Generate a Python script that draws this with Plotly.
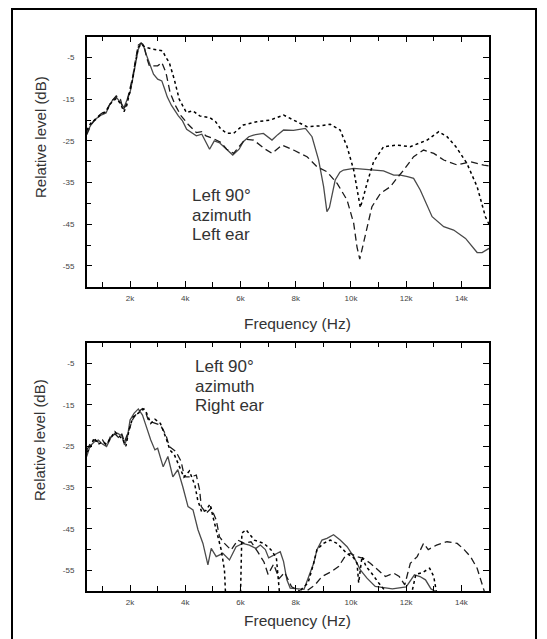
import plotly.graph_objects as go

W, H = 547, 639

# ---- Left 90° azimuth, left ear (frequency in kHz, level in dB) ----
left_solid_f = [0.43, 0.6, 0.77, 0.95, 1.13, 1.25, 1.37, 1.5, 1.62, 1.78, 1.9, 2.0, 2.1, 2.2, 2.3, 2.4,
                2.5, 2.6, 2.75, 2.85, 3.0, 3.15, 3.25, 3.35, 3.5, 3.6, 3.75, 3.9, 4.05, 4.4, 4.6, 4.88,
                5.05, 5.25, 5.5, 5.72, 5.95, 6.1, 6.3, 6.47, 6.83, 7.14, 7.35, 7.56, 7.92, 8.15, 8.35,
                8.59, 8.83, 9.01, 9.13, 9.22, 9.31, 9.43, 9.6, 9.73, 10.1, 10.7, 11.18, 11.55, 11.79,
                12.05, 12.27, 12.51, 12.94, 13.36, 13.72, 14.15, 14.57, 14.75, 15.0]
left_solid_db = [-23.0, -21.0, -19.7, -18.8, -18.3, -16.5, -15.2, -14.5, -15.5, -17.0, -15.0, -13.4, -10.0,
                 -6.5, -3.0, -1.5, -2.5, -4.5, -7.5, -9.0, -10.2, -10.6, -12.5, -14.5, -16.5, -17.6, -19.0,
                 -20.2, -22.2, -23.8, -23.4, -27.0, -25.0, -25.5, -27.0, -28.4, -27.0, -25.2, -24.0, -23.6,
                 -23.2, -24.8, -23.5, -22.4, -22.5, -22.2, -22.0, -24.0, -29.6, -36.0, -42.0, -41.0, -38.4,
                 -34.4, -32.5, -32.0, -31.6, -32.0, -32.2, -33.2, -33.2, -33.6, -34.0, -36.8, -43.2, -45.6,
                 -46.4, -48.4, -51.8, -51.8, -50.8]

left_dash_f = [0.43, 0.6, 0.77, 0.95, 1.13, 1.3, 1.5, 1.65, 1.75, 1.85, 1.95, 2.1, 2.2, 2.3, 2.4, 2.5, 2.6,
               2.7, 2.85, 3.0, 3.15, 3.3, 3.45, 3.65, 3.85, 4.1, 4.4, 4.6, 4.75, 5.0, 5.3, 5.5, 5.75, 5.95,
               6.17, 6.47, 6.7, 6.9, 7.14, 7.5, 7.92, 8.41, 8.77, 9.13, 9.5, 9.86, 10.1, 10.22, 10.32,
               10.42, 10.52, 10.76, 11.07, 11.43, 11.61, 11.91, 12.27, 12.63, 13.0, 13.36, 13.85, 14.33,
               14.81, 15.0]
left_dash_db = [-23.5, -21.0, -19.5, -18.5, -17.8, -15.8, -14.2, -15.0, -17.5, -16.5, -13.8, -9.5, -5.5,
                -2.0, -1.5, -2.0, -5.0, -7.0, -7.0, -7.0, -6.2, -8.6, -13.4, -16.6, -19.0, -21.0, -23.0,
                -22.8, -23.8, -24.4, -25.4, -27.0, -28.0, -26.5, -24.6, -24.8, -26.0, -27.0, -28.0, -26.0,
                -27.2, -28.8, -31.2, -32.4, -35.2, -39.2, -44.8, -50.5, -53.4, -50.5, -47.2, -40.8, -37.6,
                -36.0, -34.4, -32.0, -28.8, -27.2, -28.0, -29.6, -30.8, -30.0, -30.8, -31.0]

left_dot_f = [0.43, 0.6, 0.77, 0.95, 1.13, 1.3, 1.5, 1.65, 1.78, 1.88, 2.0, 2.1, 2.2, 2.3, 2.42, 2.55, 2.82,
              3.0, 3.18, 3.3, 3.42, 3.6, 3.78, 4.04, 4.28, 4.52, 4.88, 5.1, 5.27, 5.5, 5.75, 6.1, 6.59,
              7.08, 7.56, 7.92, 8.41, 8.89, 9.25, 9.61, 9.86, 10.1, 10.22, 10.34, 10.45, 10.58, 10.82,
              11.18, 11.67, 12.15, 12.76, 13.18, 13.48, 13.8, 14.2, 14.57, 14.87, 15.0]
left_dot_db = [-22.5, -20.5, -19.8, -18.6, -18.0, -16.0, -14.8, -16.0, -18.0, -16.5, -13.0, -10.0, -6.0,
               -2.5, -1.8, -2.5, -3.0, -3.2, -3.4, -5.0, -6.2, -10.2, -15.0, -18.2, -17.8, -19.0, -19.4,
               -20.4, -22.0, -23.2, -23.2, -21.2, -20.4, -20.0, -18.8, -20.0, -21.6, -21.4, -21.0, -22.4,
               -26.4, -32.0, -37.0, -41.0, -38.5, -35.2, -30.0, -26.4, -26.0, -26.4, -24.8, -22.8, -24.0,
               -26.4, -30.4, -36.0, -43.2, -45.0]

# ---- Left 90° azimuth, right ear ----
right_solid_f = [0.43, 0.55, 0.7, 0.85, 1.0, 1.15, 1.3, 1.4, 1.55, 1.7, 1.8, 1.9, 2.0, 2.15, 2.3, 2.45, 2.55,
                 2.75, 2.9, 3.0, 3.2, 3.37, 3.55, 3.73, 3.91, 4.1, 4.28, 4.46, 4.64, 4.82, 4.94, 5.12, 5.36,
                 5.6, 5.84, 6.08, 6.32, 6.56, 6.72, 6.9, 7.02, 7.44, 7.56, 7.68, 7.8, 8.3, 8.65, 8.77, 8.95,
                 9.13, 9.37, 9.61, 9.86, 10.1, 10.34, 10.58, 10.88, 11.5, 12.0, 12.3, 12.5, 12.7, 12.9, 13.3]
right_solid_db = [-27.5, -25.0, -24.0, -23.5, -24.5, -25.1, -23.0, -22.3, -21.9, -22.5, -24.7, -23.0, -18.7,
                  -17.0, -16.0, -17.5, -19.5, -23.5, -25.9, -25.5, -30.0, -27.5, -32.4, -30.7, -34.8, -39.6,
                  -40.4, -45.2, -48.5, -53.7, -49.7, -51.7, -50.9, -52.5, -49.3, -48.5, -48.9, -49.7, -48.9,
                  -50.0, -52.0, -50.5, -52.9, -57.3, -59.3, -59.6, -53.3, -50.0, -47.7, -47.3, -46.4, -47.7,
                  -49.3, -51.7, -54.9, -56.9, -58.9, -59.5, -59.0, -56.1, -56.5, -57.3, -59.5, -61.0]

right_dash_f = [0.43, 0.55, 0.7, 0.85, 1.0, 1.15, 1.3, 1.45, 1.6, 1.7, 1.8, 1.95, 2.1, 2.25, 2.45, 2.55, 2.65,
                2.75, 2.95, 3.1, 3.3, 3.42, 3.66, 3.85, 3.97, 4.21, 4.4, 4.52, 4.58, 4.76, 4.94, 5.12, 5.24,
                5.42, 5.66, 5.9, 6.14, 6.38, 6.62, 6.85, 7.0, 7.2, 7.4, 7.6, 7.85, 8.3, 8.7, 8.95, 9.3,
                9.55, 9.8, 9.98, 10.2, 10.45, 10.7, 11.0, 11.25, 11.55, 11.75, 11.95, 12.15, 12.4, 12.63,
                12.8, 13.1, 13.48, 13.85, 14.1, 14.33, 14.57, 14.75, 14.85]
right_dash_db = [-26.0, -24.5, -23.5, -24.0, -23.5, -25.0, -22.5, -22.0, -23.0, -22.0, -24.0, -21.0, -18.5,
                 -17.0, -15.9, -16.5, -18.5, -19.1, -19.5, -19.9, -22.3, -25.1, -26.3, -28.7, -32.4, -32.4,
                 -32.0, -35.6, -39.6, -41.2, -40.0, -42.8, -46.9, -48.5, -50.1, -47.7, -48.5, -48.1, -50.5,
                 -53.0, -56.0, -53.5, -57.0, -55.5, -59.0, -60.5, -58.5, -56.5, -55.3, -54.1, -51.5, -50.9,
                 -51.7, -52.1, -53.3, -55.0, -56.5, -55.7, -56.5, -58.5, -53.3, -51.7, -48.5, -50.0, -48.9,
                 -48.1, -48.5, -50.0, -51.7, -54.5, -58.5, -60.5]

right_dot_f = [0.43, 0.55, 0.7, 0.85, 1.0, 1.15, 1.3, 1.45, 1.6, 1.75, 1.85, 1.95, 2.1, 2.3, 2.5, 2.6, 2.75,
               2.9, 3.1, 3.3, 3.45, 3.6, 3.8, 3.95, 4.15, 4.35, 4.45, 4.6, 4.75, 4.9, 5.0, 5.15, 5.3, 5.42,
               5.46, 6.0, 6.05, 6.2, 6.5, 6.85, 7.1, 7.3, 7.42, 8.0, 8.45, 8.65, 8.77, 9.0, 9.25, 9.5, 9.85,
               10.1, 10.22, 10.28, 10.4, 10.55, 10.75, 11.0, 11.3, 12.2, 12.35, 12.6, 12.85, 13.0, 13.1]
right_dot_db = [-26.5, -25.5, -23.0, -24.5, -24.0, -24.5, -23.0, -21.5, -22.5, -23.5, -25.0, -21.5, -18.0,
                -17.0, -16.0, -17.0, -19.5, -18.5, -19.5, -23.0, -26.0, -27.0, -30.0, -32.5, -31.0, -34.5,
                -38.0, -41.0, -40.5, -39.0, -42.0, -46.0, -50.0, -55.0, -61.0, -61.0, -46.0, -45.2, -47.7,
                -48.5, -50.0, -52.0, -61.0, -61.0, -58.0, -53.3, -50.0, -48.5, -47.7, -48.5, -50.9, -52.0,
                -53.3, -58.0, -51.7, -54.1, -55.7, -58.0, -60.5, -60.5, -56.0, -55.5, -54.5, -56.5, -60.5]

# ---- axes ----
x_range = [0.43, 15.0]
x_tickvals = [2, 4, 6, 8, 10, 12, 14]
x_ticktext = ["2k", "4k", "6k", "8k", "10k", "12k", "14k"]
x_minorvals = [1, 3, 5, 7, 9, 11, 13]
y_range = [-60, 0]
y_tickvals = [-55, -45, -35, -25, -15, -5]
y_ticktext = ["-55", "-45", "-35", "-25", "-15", "-5"]
y_minorvals = [-50, -40, -30, -20, -10]

FONT = "Liberation Sans, Arial, sans-serif"
TICK_FONT = "Liberation Sans Narrow, Liberation Sans, Arial, sans-serif"
SOLID = dict(color="#4a4a4a", width=1.3, dash="solid")
DASH = dict(color="#1c1c1c", width=1.3, dash="7px,4px")
DOT = dict(color="#000000", width=1.5, dash="3px,3px")

fig = go.Figure()
panels = [
    ("x", "y", [(left_solid_f, left_solid_db, SOLID), (left_dash_f, left_dash_db, DASH),
                (left_dot_f, left_dot_db, DOT)]),
    ("x2", "y2", [(right_solid_f, right_solid_db, SOLID), (right_dash_f, right_dash_db, DASH),
                  (right_dot_f, right_dot_db, DOT)]),
]
for xa, ya, series in panels:
    for fx, db, style in series:
        fig.add_trace(go.Scatter(x=fx, y=db, mode="lines", line=style, xaxis=xa, yaxis=ya,
                                 showlegend=False, hoverinfo="skip"))


def px_x(p):
    return p / W


def px_y(p):
    return 1 - p / H


def xaxis(anchor):
    return dict(domain=[px_x(86.7), px_x(489)], range=x_range, anchor=anchor,
                tickmode="array", tickvals=x_tickvals, ticktext=x_ticktext,
                ticks="inside", ticklen=6, tickwidth=1, tickcolor="#000",
                minor=dict(tickmode="array", tickvals=x_minorvals, ticks="inside",
                           ticklen=5, tickwidth=1, tickcolor="#000"),
                showline=True, mirror="ticks", linecolor="#000", linewidth=1.5,
                showgrid=False, zeroline=False, ticklabelstandoff=3,
                tickfont=dict(family=TICK_FONT, size=8, color="#444"))


def yaxis(anchor, top, bottom):
    return dict(domain=[px_y(bottom), px_y(top)], range=y_range, anchor=anchor,
                tickmode="array", tickvals=y_tickvals, ticktext=y_ticktext,
                ticks="inside", ticklen=6, tickwidth=1, tickcolor="#000",
                minor=dict(tickmode="array", tickvals=y_minorvals, ticks="inside",
                           ticklen=5, tickwidth=1, tickcolor="#000"),
                showline=True, mirror="ticks", linecolor="#000", linewidth=1.5,
                showgrid=False, zeroline=False, ticklabelstandoff=9,
                tickfont=dict(family=TICK_FONT, size=8, color="#444"))


def label(text, x, y, size, xanchor="center", yanchor="middle", **kw):
    return dict(text=text, x=px_x(x), y=px_y(y), xref="paper", yref="paper",
                xanchor=xanchor, yanchor=yanchor, showarrow=False,
                font=dict(family=FONT, size=size, color="#333"), **kw)


annotations = [
    label("Frequency (Hz)", 297, 323, 15.5),
    label("Frequency (Hz)", 297, 620, 15.5),
    label("Relative level (dB)", 40, 137, 15, textangle=-90),
    label("Relative level (dB)", 40, 440, 15, textangle=-90),
]
for txt, base in [("Left 90°", 207), ("azimuth", 226.5), ("Left ear", 246),
                  ("Left 90°", 378), ("azimuth", 398), ("Right ear", 417)]:
    xl = 190 if base < 300 else 193
    annotations.append(label(txt, xl, base, 17, xanchor="left", yanchor="bottom"))

fig.update_layout(
    width=W, height=H, margin=dict(l=0, r=0, t=0, b=0),
    paper_bgcolor="white", plot_bgcolor="white",
    xaxis=xaxis("y"), yaxis=yaxis("x", 36.7, 286.7),
    xaxis2=xaxis("y2"), yaxis2=yaxis("x2", 342.7, 591),
    annotations=annotations,
    shapes=[dict(type="rect", xref="paper", yref="paper",
                 x0=px_x(12), x1=px_x(536), y0=px_y(9), y1=-0.05,
                 line=dict(color="#000", width=2))],
)

fig.write_html("out.html")
